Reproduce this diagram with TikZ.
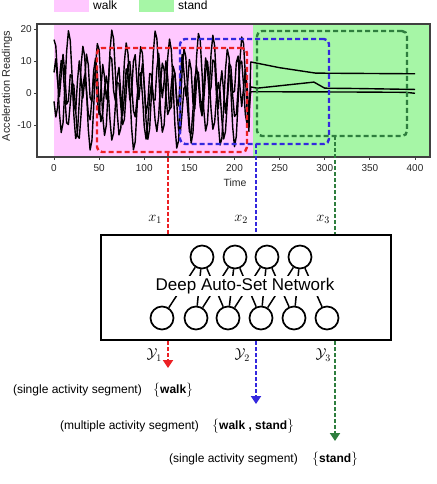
\documentclass[tikz,border=0pt]{standalone}
\usepackage[no-math]{fontspec}
\setmainfont{Liberation Sans}
\usepackage{amsmath}
\usepackage{xcolor}
\usetikzlibrary{arrows.meta}

\definecolor{walkpink}{RGB}{255,200,255}
\definecolor{standgreen}{RGB}{166,246,166}
\definecolor{segred}{RGB}{236,32,36}
\definecolor{segblue}{RGB}{52,40,222}
\definecolor{seggreen}{RGB}{46,126,62}

\begin{document}
\begin{tikzpicture}[
      x=1pt, y=-1pt,
      % Reusable styles for a cleaner look
      legkey/.style={anchor=north west, inner sep=0pt, minimum width=35pt, minimum height=12pt},
      leglbl/.style={anchor=base west, inner sep=1pt, font=\fontsize{12}{14}\selectfont},
      ticklbl/.style={inner sep=1pt, text=black!85, font=\fontsize{10}{12}\selectfont},
      axisframe/.style={draw=black!75, line width=1.3pt},
      signal/.style={line width=1.4pt, line join=round},
      segbox/.style={dashed, dash pattern=on 5pt off 3pt, line width=2.4pt, rounded corners=5pt,
        inner sep=0pt, outer sep=0pt},
      flow/.style={dash pattern=on 4pt off 2pt, line width=2pt},
      tip/.style={-{Triangle[length=8pt,width=10pt]}},
      netbox/.style={draw, line width=2.4pt, minimum width=290pt, minimum height=105pt},
      neuron/.style={circle, draw, line width=1.7pt, minimum size=23pt, inner sep=0pt},
      link/.style={line width=1.5pt},
      mathlbl/.style={inner sep=1pt, font=\fontsize{14}{16}\selectfont},
      desc/.style={anchor=east, inner sep=1pt, font=\fontsize{12}{14}\selectfont},
      labelset/.style={anchor=west, inner sep=1pt, font=\fontsize{12}{14}\selectfont}
    ]
    \useasboundingbox (0,0) rectangle (436,484);

    % Legend
    \node[legkey, fill=walkpink] (walkkey) at (54,0) {};
    \node[leglbl] (walklbl) at (92,9.5) {walk};
    \node[legkey, fill=standgreen] (standkey) at (139,0) {};
    \node[leglbl] (standlbl) at (177,9.5) {stand};

    % Activity regions and the signal plot
    \fill[walkpink] (54,24) rectangle (253,157);
    \fill[standgreen] (253,24) rectangle (430,157);
    \begin{scope}[shift={(54,93.3)}, x=0.9025pt, y=3.2pt]
      \draw[signal] plot[domain=0:216, samples=109] (\x, {1+16*sin(22.5*\x+80)+3*sin(7*\x)})
        -- (218,9.8) -- (250,8) -- (290,6.3) -- (400,6.1);
      \draw[signal] plot[domain=0:216, samples=109] (\x, {3+7*sin(41*\x+30)+3*sin(13*\x)})
        -- (218,2) -- (225,1.6) -- (288,3.5) -- (300,1.6) -- (335,1.5) -- (400,1.2);
      \draw[signal] plot[domain=0:216, samples=109] (\x, {-2+9*sin(29*\x+200)+4*sin(9*\x+40)})
        -- (218,0.5) -- (330,0.4) -- (390,0.3) -- (400,0);
    \end{scope}
    \draw[axisframe] (37,24) rectangle (430,157);

    % Axis ticks and labels
    \foreach \t in {0,50,...,400} {
      \pgfmathsetmacro\tx{54+0.9025*\t}
      \draw[black!75, line width=0.9pt] (\tx,157) -- ++(0,3);
      \node[ticklbl] at (\tx,168) {\t};
    }
    \foreach \v in {20,10,0,-10} {
      \pgfmathsetmacro\ty{93.3-3.2*\v}
      \draw[black!75, line width=0.9pt] (37,\ty) -- ++(-3,0);
      \node[ticklbl, anchor=east] at (33,\ty) {\v};
    }
    \node[ticklbl, font=\fontsize{10.5}{12}\selectfont] (timelbl) at (235,183) {Time};
    \node[rotate=90, inner sep=1pt, text=black!85, font=\fontsize{11}{13}\selectfont] (ylbl) at (7,86) {Acceleration Readings};

    % Sliding segments
    \node[segbox, draw=segred, minimum width=150pt, minimum height=104pt] (seg1) at (172,100) {};
    \node[segbox, draw=segblue, minimum width=149pt, minimum height=105pt] (seg2) at (254.5,91.5) {};
    \node[segbox, draw=seggreen, minimum width=150pt, minimum height=105pt] (seg3) at (332,83.5) {};

    % The network
    \node[netbox] (net) at (246,287.5) {};
    \foreach \i/\x in {1/202,2/235,3/267,4/300}
      \node[neuron] (t\i) at (\x,257) {};
    \foreach \i/\x in {1/162,2/196,3/228,4/261,5/294,6/327}
      \node[neuron] (b\i) at (\x,318) {};
    \foreach \i in {1,...,4}
      \foreach \j in {0,1,2} {
        \pgfmathtruncatemacro\k{\i+\j}
        \draw[link] (t\i) -- (b\k);
      }
    \node[fill=white, inner sep=2.5pt, font=\fontsize{17}{20}\selectfont] (netlbl) at (245,286) {Deep Auto-Set Network};

    % Segments in, label sets out
    \coordinate (y1tip) at (168,368);
    \coordinate (y2tip) at (256,404);
    \coordinate (y3tip) at (335,441);
    \draw[flow, segred] (seg1.south -| y1tip) -- (net.north -| y1tip);
    \draw[flow, segblue] (seg2.south -| y2tip) -- (net.north -| y2tip);
    \draw[flow, seggreen] (seg3.south -| y3tip) -- (net.north -| y3tip);
    \draw[flow, segred, tip] (net.south -| y1tip) -- (y1tip);
    \draw[flow, segblue, tip] (net.south -| y2tip) -- (y2tip);
    \draw[flow, seggreen, tip] (net.south -| y3tip) -- (y3tip);

    \node[mathlbl, anchor=east] (x1) at (163,219) {$x_1$};
    \node[mathlbl, anchor=east] (x2) at (249,219) {$x_2$};
    \node[mathlbl, anchor=east] (x3) at (331,219) {$x_3$};
    \node[mathlbl, anchor=east] (y1) at (163,355) {$\mathcal{Y}_1$};
    \node[mathlbl, anchor=east] (y2) at (251,355) {$\mathcal{Y}_2$};
    \node[mathlbl, anchor=east] (y3) at (332,355) {$\mathcal{Y}_3$};

    \node[desc] (desc1) at (143,390) {(single activity segment)};
    \node[labelset] (set1) at (152,390) {$\big\{$\textbf{walk}$\big\}$};
    \node[desc] (desc2) at (200,426) {(multiple activity segment)};
    \node[labelset] (set2) at (211,426) {$\big\{$\textbf{walk , stand}$\big\}$};
    \node[desc] (desc3) at (299,459) {(single activity segment)};
    \node[labelset] (set3) at (311,459) {$\big\{$\textbf{stand}$\big\}$};
  \end{tikzpicture}
\end{document}
